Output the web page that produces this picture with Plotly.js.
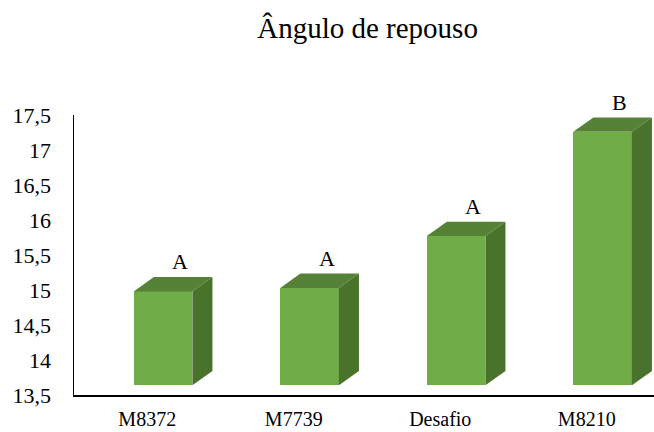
<!DOCTYPE html>
<html>
<head>
<meta charset="utf-8">
<script src="https://cdn.plot.ly/plotly-3.0.1.min.js"></script>
<style>html,body{margin:0;padding:0;background:#fff;}#chart{width:654px;height:432px;}</style>
</head>
<body>
<div id="chart"></div>
<script>
// Data
const categories = ["M8372", "M7739", "Desafio", "M8210"];
const values = [14.98, 15.03, 15.77, 17.26];
const letters = ["A", "A", "A", "B"];
const chartTitle = "Ângulo de repouso";

// Styling / geometry constants (not data)
const floorVal = 13.64;     // bottom of the 3D columns
const barOff = -0.092;      // front-face left offset from category centre
const barW = 0.40;          // front-face width
const depthX = 0.137;       // 3D depth in x units
const depthY = 0.204;       // 3D depth in y units
const frontColor = "#70AD47";
const topColor = "#558236";
const sideColor = "#49722B";
const fontFam = "Liberation Serif";

const xs = categories.map((c, i) => i);
const traces = [];

// front faces
traces.push({
  type: "bar",
  x: xs,
  y: values.map(v => v - floorVal),
  base: floorVal,
  offset: barOff,
  width: barW,
  marker: {color: frontColor, line: {width: 0}},
  hoverinfo: "skip",
  showlegend: false
});

// side and top faces as filled polygons computed from the values
values.forEach((v, i) => {
  const xl = i + barOff, xr = i + barOff + barW;
  traces.push({
    type: "scatter", mode: "lines", fill: "toself",
    x: [xr, xr + depthX, xr + depthX, xr, xr],
    y: [floorVal, floorVal + depthY, v + depthY, v, floorVal],
    fillcolor: sideColor, line: {width: 0, color: sideColor},
    hoverinfo: "skip", showlegend: false
  });
  traces.push({
    type: "scatter", mode: "lines", fill: "toself",
    x: [xl, xl + depthX, xr + depthX, xr, xl],
    y: [v, v + depthY, v + depthY, v, v],
    fillcolor: topColor, line: {width: 0, color: topColor},
    hoverinfo: "skip", showlegend: false
  });
});

const annotations = values.map((v, i) => ({
  x: i + barOff + (barW + depthX) / 2 + 0.05,
  y: v + depthY,
  xref: "x", yref: "y",
  text: letters[i],
  showarrow: false,
  yanchor: "bottom",
  yshift: 1,
  font: {family: fontFam, size: 22, color: "#000"}
}));

const layout = {
  width: 654, height: 432,
  margin: {l: 74, r: 0, t: 115, b: 37},
  paper_bgcolor: "#fff", plot_bgcolor: "#fff",
  separators: ",.",
  font: {family: fontFam, color: "#000", size: 20},
  title: {
    text: chartTitle,
    font: {family: fontFam, size: 29, color: "#000"},
    xref: "container", x: 0.562, xanchor: "center",
    yref: "container", y: 0.935, yanchor: "middle"
  },
  xaxis: {
    range: [-0.5, 3.459],
    tickvals: xs, ticktext: categories,
    showgrid: false, zeroline: false,
    showline: true, linecolor: "#000", linewidth: 1.5,
    ticks: "", ticklabelstandoff: 5,
    tickfont: {family: fontFam, size: 20, color: "#000"},
    fixedrange: true
  },
  yaxis: {
    range: [13.5, 17.5],
    dtick: 0.5, tick0: 13.5,
    showgrid: false, zeroline: false,
    showline: true, linecolor: "#000", linewidth: 1.5,
    ticks: "", ticklabelstandoff: 17,
    tickfont: {family: fontFam, size: 22, color: "#000"},
    fixedrange: true
  },
  bargap: 0,
  annotations: annotations,
  showlegend: false
};

Plotly.newPlot("chart", traces, layout, {displayModeBar: false, staticPlot: true});
</script>
</body>
</html>
